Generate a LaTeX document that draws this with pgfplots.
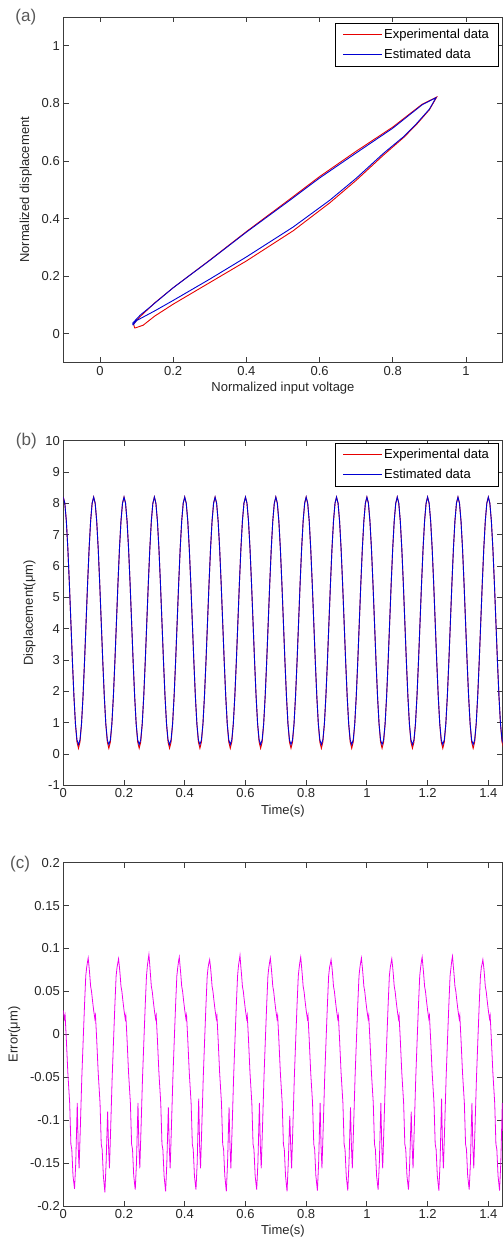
\documentclass[border=0pt]{standalone}
\usepackage{fontspec}
\setmainfont{Liberation Sans}
\usepackage{pgfplots}
\usepackage{pgfplotstable}
\pgfplotsset{compat=1.18}

\definecolor{axgray}{RGB}{60,60,60}
\definecolor{expred}{RGB}{230,0,0}
\definecolor{estblue}{RGB}{0,0,210}
\definecolor{errmag}{RGB}{240,0,240}

\pgfplotstableread[row sep=\\]{
t exp est\\
0.000 8.2 8.2\\0.005 8.004 8.004\\0.010 7.436 7.436\\0.015 6.552 6.552\\0.020 5.436 5.436\\0.025 4.2 4.2\\0.030 2.964 2.964\\0.035 1.848 1.848\\0.040 0.964 0.964\\0.045 0.38 0.45\\0.050 0.18 0.3\\0.055 0.38 0.45\\0.060 0.964 0.964\\0.065 1.848 1.848\\0.070 2.964 2.964\\0.075 4.2 4.2\\0.080 5.436 5.436\\0.085 6.552 6.552\\0.090 7.436 7.436\\0.095 8.004 8.004\\
0.100 8.2 8.2\\0.105 8.004 8.004\\0.110 7.436 7.436\\0.115 6.552 6.552\\0.120 5.436 5.436\\0.125 4.2 4.2\\0.130 2.964 2.964\\0.135 1.848 1.848\\0.140 0.964 0.964\\0.145 0.38 0.45\\0.150 0.18 0.3\\0.155 0.38 0.45\\0.160 0.964 0.964\\0.165 1.848 1.848\\0.170 2.964 2.964\\0.175 4.2 4.2\\0.180 5.436 5.436\\0.185 6.552 6.552\\0.190 7.436 7.436\\0.195 8.004 8.004\\
0.200 8.2 8.2\\0.205 8.004 8.004\\0.210 7.436 7.436\\0.215 6.552 6.552\\0.220 5.436 5.436\\0.225 4.2 4.2\\0.230 2.964 2.964\\0.235 1.848 1.848\\0.240 0.964 0.964\\0.245 0.38 0.45\\0.250 0.18 0.3\\0.255 0.38 0.45\\0.260 0.964 0.964\\0.265 1.848 1.848\\0.270 2.964 2.964\\0.275 4.2 4.2\\0.280 5.436 5.436\\0.285 6.552 6.552\\0.290 7.436 7.436\\0.295 8.004 8.004\\
0.300 8.2 8.2\\0.305 8.004 8.004\\0.310 7.436 7.436\\0.315 6.552 6.552\\0.320 5.436 5.436\\0.325 4.2 4.2\\0.330 2.964 2.964\\0.335 1.848 1.848\\0.340 0.964 0.964\\0.345 0.38 0.45\\0.350 0.18 0.3\\0.355 0.38 0.45\\0.360 0.964 0.964\\0.365 1.848 1.848\\0.370 2.964 2.964\\0.375 4.2 4.2\\0.380 5.436 5.436\\0.385 6.552 6.552\\0.390 7.436 7.436\\0.395 8.004 8.004\\
0.400 8.2 8.2\\0.405 8.004 8.004\\0.410 7.436 7.436\\0.415 6.552 6.552\\0.420 5.436 5.436\\0.425 4.2 4.2\\0.430 2.964 2.964\\0.435 1.848 1.848\\0.440 0.964 0.964\\0.445 0.38 0.45\\0.450 0.18 0.3\\0.455 0.38 0.45\\0.460 0.964 0.964\\0.465 1.848 1.848\\0.470 2.964 2.964\\0.475 4.2 4.2\\0.480 5.436 5.436\\0.485 6.552 6.552\\0.490 7.436 7.436\\0.495 8.004 8.004\\
0.500 8.2 8.2\\0.505 8.004 8.004\\0.510 7.436 7.436\\0.515 6.552 6.552\\0.520 5.436 5.436\\0.525 4.2 4.2\\0.530 2.964 2.964\\0.535 1.848 1.848\\0.540 0.964 0.964\\0.545 0.38 0.45\\0.550 0.18 0.3\\0.555 0.38 0.45\\0.560 0.964 0.964\\0.565 1.848 1.848\\0.570 2.964 2.964\\0.575 4.2 4.2\\0.580 5.436 5.436\\0.585 6.552 6.552\\0.590 7.436 7.436\\0.595 8.004 8.004\\
0.600 8.2 8.2\\0.605 8.004 8.004\\0.610 7.436 7.436\\0.615 6.552 6.552\\0.620 5.436 5.436\\0.625 4.2 4.2\\0.630 2.964 2.964\\0.635 1.848 1.848\\0.640 0.964 0.964\\0.645 0.38 0.45\\0.650 0.18 0.3\\0.655 0.38 0.45\\0.660 0.964 0.964\\0.665 1.848 1.848\\0.670 2.964 2.964\\0.675 4.2 4.2\\0.680 5.436 5.436\\0.685 6.552 6.552\\0.690 7.436 7.436\\0.695 8.004 8.004\\
0.700 8.2 8.2\\0.705 8.004 8.004\\0.710 7.436 7.436\\0.715 6.552 6.552\\0.720 5.436 5.436\\0.725 4.2 4.2\\0.730 2.964 2.964\\0.735 1.848 1.848\\0.740 0.964 0.964\\0.745 0.38 0.45\\0.750 0.18 0.3\\0.755 0.38 0.45\\0.760 0.964 0.964\\0.765 1.848 1.848\\0.770 2.964 2.964\\0.775 4.2 4.2\\0.780 5.436 5.436\\0.785 6.552 6.552\\0.790 7.436 7.436\\0.795 8.004 8.004\\
0.800 8.2 8.2\\0.805 8.004 8.004\\0.810 7.436 7.436\\0.815 6.552 6.552\\0.820 5.436 5.436\\0.825 4.2 4.2\\0.830 2.964 2.964\\0.835 1.848 1.848\\0.840 0.964 0.964\\0.845 0.38 0.45\\0.850 0.18 0.3\\0.855 0.38 0.45\\0.860 0.964 0.964\\0.865 1.848 1.848\\0.870 2.964 2.964\\0.875 4.2 4.2\\0.880 5.436 5.436\\0.885 6.552 6.552\\0.890 7.436 7.436\\0.895 8.004 8.004\\
0.900 8.2 8.2\\0.905 8.004 8.004\\0.910 7.436 7.436\\0.915 6.552 6.552\\0.920 5.436 5.436\\0.925 4.2 4.2\\0.930 2.964 2.964\\0.935 1.848 1.848\\0.940 0.964 0.964\\0.945 0.38 0.45\\0.950 0.18 0.3\\0.955 0.38 0.45\\0.960 0.964 0.964\\0.965 1.848 1.848\\0.970 2.964 2.964\\0.975 4.2 4.2\\0.980 5.436 5.436\\0.985 6.552 6.552\\0.990 7.436 7.436\\0.995 8.004 8.004\\
1.000 8.2 8.2\\1.005 8.004 8.004\\1.010 7.436 7.436\\1.015 6.552 6.552\\1.020 5.436 5.436\\1.025 4.2 4.2\\1.030 2.964 2.964\\1.035 1.848 1.848\\1.040 0.964 0.964\\1.045 0.38 0.45\\1.050 0.18 0.3\\1.055 0.38 0.45\\1.060 0.964 0.964\\1.065 1.848 1.848\\1.070 2.964 2.964\\1.075 4.2 4.2\\1.080 5.436 5.436\\1.085 6.552 6.552\\1.090 7.436 7.436\\1.095 8.004 8.004\\
1.100 8.2 8.2\\1.105 8.004 8.004\\1.110 7.436 7.436\\1.115 6.552 6.552\\1.120 5.436 5.436\\1.125 4.2 4.2\\1.130 2.964 2.964\\1.135 1.848 1.848\\1.140 0.964 0.964\\1.145 0.38 0.45\\1.150 0.18 0.3\\1.155 0.38 0.45\\1.160 0.964 0.964\\1.165 1.848 1.848\\1.170 2.964 2.964\\1.175 4.2 4.2\\1.180 5.436 5.436\\1.185 6.552 6.552\\1.190 7.436 7.436\\1.195 8.004 8.004\\
1.200 8.2 8.2\\1.205 8.004 8.004\\1.210 7.436 7.436\\1.215 6.552 6.552\\1.220 5.436 5.436\\1.225 4.2 4.2\\1.230 2.964 2.964\\1.235 1.848 1.848\\1.240 0.964 0.964\\1.245 0.38 0.45\\1.250 0.18 0.3\\1.255 0.38 0.45\\1.260 0.964 0.964\\1.265 1.848 1.848\\1.270 2.964 2.964\\1.275 4.2 4.2\\1.280 5.436 5.436\\1.285 6.552 6.552\\1.290 7.436 7.436\\1.295 8.004 8.004\\
1.300 8.2 8.2\\1.305 8.004 8.004\\1.310 7.436 7.436\\1.315 6.552 6.552\\1.320 5.436 5.436\\1.325 4.2 4.2\\1.330 2.964 2.964\\1.335 1.848 1.848\\1.340 0.964 0.964\\1.345 0.38 0.45\\1.350 0.18 0.3\\1.355 0.38 0.45\\1.360 0.964 0.964\\1.365 1.848 1.848\\1.370 2.964 2.964\\1.375 4.2 4.2\\1.380 5.436 5.436\\1.385 6.552 6.552\\1.390 7.436 7.436\\1.395 8.004 8.004\\
1.400 8.2 8.2\\1.405 8.004 8.004\\1.410 7.436 7.436\\1.415 6.552 6.552\\1.420 5.436 5.436\\1.425 4.2 4.2\\1.430 2.964 2.964\\1.435 1.848 1.848\\1.440 0.964 0.964\\1.445 0.38 0.45\\1.450 0.18 0.3\\
}\tabb

\pgfplotsset{
 mstyle/.style={
  scale only axis,
  axis line style={axgray, line width=0.9bp},
  every tick/.style={axgray, line width=0.8bp},
  tick align=inside,
  major tick length=5.3bp,
  tick label style={font=\fontsize{13bp}{15bp}\selectfont, text=black!85},
  label style={font=\fontsize{13bp}{15bp}\selectfont, text=black!85},
  ylabel style={yshift=3bp},
  legend style={font=\fontsize{13bp}{15bp}\selectfont, draw=black, line width=0.8bp,
    inner xsep=7bp, inner ysep=3bp, row sep=4bp,
    nodes={inner xsep=2bp, inner ysep=2bp, text depth=2.7bp},
    cells={anchor=west}, at={(1,1)}, anchor=north east, xshift=-4.3bp},
  legend image code/.code={\draw[#1] (0bp,0bp) -- (38.6bp,0bp);},
 }
}

\begin{document}
\begin{tikzpicture}
\path[use as bounding box] (0bp,0bp) rectangle (503bp,1247bp);

% ---------------- (a)
\begin{axis}[mstyle, at={(63.3bp,884.3bp)}, anchor=south west,
  width=439.3bp, height=345.7bp,
  xmin=-0.1, xmax=1.1, ymin=-0.1, ymax=1.1,
  xtick={0,0.2,0.4,0.6,0.8,1}, xticklabels={0,0.2,0.4,0.6,0.8,1},
  ytick={0,0.2,0.4,0.6,0.8,1}, yticklabels={0,0.2,0.4,0.6,0.8,1},
  xlabel={Normalized input voltage}, ylabel={Normalized displacement},
  legend style={yshift=-6.3bp}]
\addplot[expred, line width=0.9bp] coordinates {
(0.095,0.020)(0.118,0.030)(0.150,0.062)(0.200,0.103)(0.300,0.178)(0.400,0.253)(0.528,0.358)(0.628,0.455)(0.700,0.533)(0.774,0.620)(0.830,0.682)(0.865,0.727)(0.900,0.778)(0.920,0.822)(0.880,0.797)(0.800,0.718)(0.700,0.634)(0.600,0.546)(0.519,0.468)(0.400,0.355)(0.300,0.256)(0.200,0.160)(0.150,0.108)(0.110,0.060)(0.092,0.035)(0.095,0.020)};
\addplot[estblue, line width=0.9bp] coordinates {
(0.090,0.030)(0.100,0.046)(0.150,0.080)(0.200,0.116)(0.300,0.190)(0.400,0.267)(0.528,0.371)(0.628,0.464)(0.700,0.540)(0.774,0.626)(0.830,0.685)(0.865,0.730)(0.900,0.780)(0.918,0.820)(0.880,0.795)(0.800,0.714)(0.700,0.628)(0.600,0.541)(0.519,0.464)(0.400,0.353)(0.300,0.255)(0.200,0.160)(0.137,0.093)(0.110,0.065)(0.090,0.038)(0.090,0.030)};
\legend{Experimental data, Estimated data}
\end{axis}

% ---------------- (b)
\begin{axis}[mstyle, at={(63.3bp,461.7bp)}, anchor=south west,
  width=439.3bp, height=344.6bp,
  xmin=0, xmax=1.447, ymin=-1, ymax=10,
  xtick={0,0.2,0.4,0.6,0.8,1,1.2,1.4}, xticklabels={0,0.2,0.4,0.6,0.8,1,1.2,1.4},
  ytick={-1,0,1,2,3,4,5,6,7,8,9,10}, yticklabels={-1,0,1,2,3,4,5,6,7,8,9,10},
  xlabel={Time(s)}, ylabel={Displacement(μm)},
  legend style={yshift=-2.6bp}]
\addplot[expred, line width=0.9bp] table[x=t, y=exp] {\tabb};
\addplot[estblue, line width=0.9bp] table[x=t, y=est] {\tabb};
\legend{Experimental data, Estimated data}
\end{axis}

% ---------------- (c)
\begin{axis}[mstyle, at={(63.3bp,41bp)}, anchor=south west,
  width=439.3bp, height=343.3bp,
  xmin=0, xmax=1.447, ymin=-0.2, ymax=0.2,
  xtick={0,0.2,0.4,0.6,0.8,1,1.2,1.4}, xticklabels={0,0.2,0.4,0.6,0.8,1,1.2,1.4},
  ytick={-0.2,-0.15,-0.1,-0.05,0,0.05,0.1,0.15,0.2},
  yticklabels={-0.2,-0.15,-0.1,-0.05,0,0.05,0.1,0.15,0.2},
  xlabel={Time(s)}, ylabel={Error(μm)}]
\addplot[errmag, line width=0.8bp] coordinates {
(0.000,0.028)(0.004,0.018)(0.006,0.022)(0.010,-0.006)(0.015,-0.045)(0.021,-0.080)(0.025,-0.128)(0.028,-0.134)(0.032,-0.165)(0.037,-0.180)(0.041,-0.150)(0.046,-0.080)(0.049,-0.130)(0.052,-0.156)(0.056,-0.110)(0.061,-0.050)(0.066,-0.002)(0.070,0.035)(0.074,0.068)(0.077,0.078)(0.080,0.085)(0.082,0.089)(0.085,0.078)(0.087,0.070)(0.090,0.056)(0.093,0.050)(0.096,0.040)
(0.100,0.028)(0.104,0.018)(0.106,0.022)(0.110,-0.006)(0.115,-0.045)(0.121,-0.080)(0.125,-0.128)(0.128,-0.134)(0.132,-0.165)(0.137,-0.184)(0.141,-0.150)(0.146,-0.090)(0.149,-0.130)(0.152,-0.156)(0.156,-0.110)(0.161,-0.050)(0.166,-0.002)(0.170,0.035)(0.174,0.068)(0.177,0.078)(0.180,0.084)(0.182,0.088)(0.185,0.078)(0.187,0.070)(0.190,0.056)(0.193,0.050)(0.196,0.040)
(0.200,0.028)(0.204,0.018)(0.206,0.022)(0.210,-0.006)(0.215,-0.045)(0.221,-0.080)(0.225,-0.128)(0.228,-0.134)(0.232,-0.165)(0.237,-0.181)(0.241,-0.150)(0.246,-0.080)(0.249,-0.130)(0.252,-0.156)(0.256,-0.110)(0.261,-0.050)(0.266,-0.002)(0.270,0.035)(0.274,0.068)(0.277,0.080)(0.280,0.088)(0.282,0.093)(0.285,0.080)(0.287,0.070)(0.290,0.056)(0.293,0.050)(0.296,0.040)
(0.300,0.028)(0.304,0.018)(0.306,0.022)(0.310,-0.006)(0.315,-0.045)(0.321,-0.080)(0.325,-0.128)(0.328,-0.134)(0.332,-0.165)(0.337,-0.183)(0.341,-0.150)(0.346,-0.085)(0.349,-0.130)(0.352,-0.156)(0.356,-0.110)(0.361,-0.050)(0.366,-0.002)(0.370,0.035)(0.374,0.068)(0.377,0.078)(0.380,0.086)(0.382,0.090)(0.385,0.078)(0.387,0.070)(0.390,0.056)(0.393,0.050)(0.396,0.040)
(0.400,0.028)(0.404,0.018)(0.406,0.022)(0.410,-0.006)(0.415,-0.045)(0.421,-0.080)(0.425,-0.128)(0.428,-0.134)(0.432,-0.165)(0.437,-0.181)(0.441,-0.150)(0.446,-0.075)(0.449,-0.130)(0.452,-0.156)(0.456,-0.110)(0.461,-0.050)(0.466,-0.002)(0.470,0.035)(0.474,0.068)(0.477,0.078)(0.480,0.084)(0.482,0.087)(0.485,0.078)(0.487,0.070)(0.490,0.056)(0.493,0.050)(0.496,0.040)
(0.500,0.028)(0.504,0.018)(0.506,0.022)(0.510,-0.006)(0.515,-0.045)(0.521,-0.080)(0.525,-0.128)(0.528,-0.134)(0.532,-0.165)(0.537,-0.183)(0.541,-0.150)(0.546,-0.085)(0.549,-0.130)(0.552,-0.156)(0.556,-0.110)(0.561,-0.050)(0.566,-0.002)(0.570,0.035)(0.574,0.068)(0.577,0.080)(0.580,0.087)(0.582,0.092)(0.585,0.078)(0.587,0.070)(0.590,0.056)(0.593,0.050)(0.596,0.040)
(0.600,0.028)(0.604,0.018)(0.606,0.022)(0.610,-0.006)(0.615,-0.045)(0.621,-0.080)(0.625,-0.128)(0.628,-0.134)(0.632,-0.165)(0.637,-0.181)(0.641,-0.150)(0.646,-0.080)(0.649,-0.130)(0.652,-0.156)(0.656,-0.110)(0.661,-0.050)(0.666,-0.002)(0.670,0.035)(0.674,0.068)(0.677,0.078)(0.680,0.085)(0.682,0.089)(0.685,0.078)(0.687,0.070)(0.690,0.056)(0.693,0.050)(0.696,0.040)
(0.700,0.028)(0.704,0.018)(0.706,0.022)(0.710,-0.006)(0.715,-0.045)(0.721,-0.080)(0.725,-0.128)(0.728,-0.134)(0.732,-0.165)(0.737,-0.183)(0.741,-0.150)(0.746,-0.095)(0.749,-0.130)(0.752,-0.156)(0.756,-0.110)(0.761,-0.050)(0.766,-0.002)(0.770,0.035)(0.774,0.068)(0.777,0.078)(0.780,0.086)(0.782,0.090)(0.785,0.078)(0.787,0.070)(0.790,0.056)(0.793,0.050)(0.796,0.040)
(0.800,0.028)(0.804,0.018)(0.806,0.022)(0.810,-0.006)(0.815,-0.045)(0.821,-0.080)(0.825,-0.128)(0.828,-0.134)(0.832,-0.165)(0.837,-0.182)(0.841,-0.150)(0.846,-0.080)(0.849,-0.130)(0.852,-0.156)(0.856,-0.110)(0.861,-0.050)(0.866,-0.002)(0.870,0.035)(0.874,0.068)(0.877,0.078)(0.880,0.083)(0.882,0.087)(0.885,0.078)(0.887,0.070)(0.890,0.056)(0.893,0.050)(0.896,0.040)
(0.900,0.028)(0.904,0.018)(0.906,0.022)(0.910,-0.006)(0.915,-0.045)(0.921,-0.080)(0.925,-0.128)(0.928,-0.134)(0.932,-0.165)(0.937,-0.182)(0.941,-0.150)(0.946,-0.085)(0.949,-0.130)(0.952,-0.156)(0.956,-0.110)(0.961,-0.050)(0.966,-0.002)(0.970,0.035)(0.974,0.068)(0.977,0.078)(0.980,0.085)(0.982,0.089)(0.985,0.078)(0.987,0.070)(0.990,0.056)(0.993,0.050)(0.996,0.040)
(1.000,0.028)(1.004,0.018)(1.006,0.022)(1.010,-0.006)(1.015,-0.045)(1.021,-0.080)(1.025,-0.128)(1.028,-0.134)(1.032,-0.165)(1.037,-0.181)(1.041,-0.150)(1.046,-0.080)(1.049,-0.130)(1.052,-0.156)(1.056,-0.110)(1.061,-0.050)(1.066,-0.002)(1.070,0.035)(1.074,0.068)(1.077,0.078)(1.080,0.084)(1.082,0.088)(1.085,0.078)(1.087,0.070)(1.090,0.056)(1.093,0.050)(1.096,0.040)
(1.100,0.028)(1.104,0.018)(1.106,0.022)(1.110,-0.006)(1.115,-0.045)(1.121,-0.080)(1.125,-0.128)(1.128,-0.134)(1.132,-0.165)(1.137,-0.181)(1.141,-0.150)(1.146,-0.090)(1.149,-0.130)(1.152,-0.156)(1.156,-0.110)(1.161,-0.050)(1.166,-0.002)(1.170,0.035)(1.174,0.068)(1.177,0.078)(1.180,0.086)(1.182,0.090)(1.185,0.078)(1.187,0.070)(1.190,0.056)(1.193,0.050)(1.196,0.040)
(1.200,0.028)(1.204,0.018)(1.206,0.022)(1.210,-0.006)(1.215,-0.045)(1.221,-0.080)(1.225,-0.128)(1.228,-0.134)(1.232,-0.165)(1.237,-0.182)(1.241,-0.150)(1.246,-0.075)(1.249,-0.130)(1.252,-0.156)(1.256,-0.110)(1.261,-0.050)(1.266,-0.002)(1.270,0.035)(1.274,0.068)(1.277,0.078)(1.280,0.087)(1.282,0.091)(1.285,0.078)(1.287,0.070)(1.290,0.056)(1.293,0.050)(1.296,0.040)
(1.300,0.028)(1.304,0.018)(1.306,0.022)(1.310,-0.006)(1.315,-0.045)(1.321,-0.080)(1.325,-0.128)(1.328,-0.134)(1.332,-0.165)(1.337,-0.181)(1.341,-0.150)(1.346,-0.080)(1.349,-0.130)(1.352,-0.156)(1.356,-0.110)(1.361,-0.050)(1.366,-0.002)(1.370,0.035)(1.374,0.068)(1.377,0.078)(1.380,0.083)(1.382,0.087)(1.385,0.078)(1.387,0.070)(1.390,0.056)(1.393,0.050)(1.396,0.040)
(1.400,0.028)(1.404,0.018)(1.406,0.022)(1.410,-0.006)(1.415,-0.045)(1.421,-0.080)(1.425,-0.128)(1.428,-0.134)(1.432,-0.165)(1.437,-0.182)(1.441,-0.150)(1.446,-0.080)(1.449,-0.130)};
\end{axis}

\node[font=\fontsize{17bp}{20bp}\selectfont, text=black!65] at (25.8bp,1229.5bp) {(a)};
\node[font=\fontsize{17bp}{20bp}\selectfont, text=black!65] at (26.3bp,806.3bp) {(b)};
\node[font=\fontsize{17bp}{20bp}\selectfont, text=black!65] at (20bp,383bp) {(c)};
\end{tikzpicture}
\end{document}
